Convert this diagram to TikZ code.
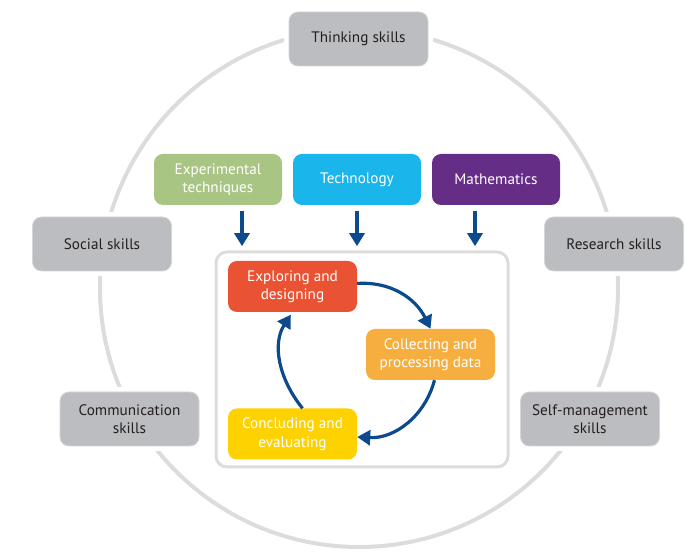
\documentclass[tikz,border=0pt]{standalone}
\usepackage{fontspec}
\setmainfont{PT Sans}
\usetikzlibrary{arrows.meta}
\definecolor{boxgray}{HTML}{BCBDC0}
\definecolor{boxedge}{HTML}{D4D5D7}
\definecolor{ringgray}{HTML}{DCDCDC}
\definecolor{textdark}{HTML}{231F20}
\definecolor{expgreen}{HTML}{A9C584}
\definecolor{techblue}{HTML}{1AB5EA}
\definecolor{mathpurple}{HTML}{652D86}
\definecolor{redstage}{HTML}{EA5234}
\definecolor{orangestage}{HTML}{F6AF3E}
\definecolor{yellowstage}{HTML}{FED201}
\definecolor{arrowblue}{HTML}{0D4A8D}
\begin{document}
\begin{tikzpicture}[x=1pt,y=1pt,
  boxfont/.style={font=\fontsize{15.2}{18.5}\selectfont},
  skill/.style={boxfont, rounded corners=9pt, fill=boxgray, draw=boxedge, line width=0.8pt,
    minimum width=139pt, minimum height=54pt, align=center, text=textdark,
    preaction={draw=white, line width=10pt}},
  tool/.style={boxfont, rounded corners=9pt, minimum width=128pt, minimum height=51pt,
    align=center, text=white},
  stagebox/.style={boxfont, rounded corners=9pt, minimum width=129pt, minimum height=51pt,
    align=center, text=white},
  ring/.style={draw=ringgray, line width=4pt},
  frame/.style={draw=ringgray, line width=3pt, rounded corners=11pt, fill=white,
    minimum width=292pt, minimum height=215pt},
  downarrow/.style={draw=arrowblue, line width=3.2pt, -{Triangle[width=15pt,length=13pt]}},
  cyclearrow/.style={draw=arrowblue, line width=3.2pt, -{Triangle[width=15pt,length=13pt]}}
]
\useasboundingbox (0,0) rectangle (699,556);
% outer ring
\draw[ring] (359,268) circle[radius=259];
% skills
\node[skill] (thinking) at (358.5,517) {Thinking skills};
\node[skill] (social) at (102,312) {Social skills};
\node[skill] (research) at (614,312) {Research skills};
\node[skill] (comm) at (129.5,137) {Communication\\skills};
\node[skill] (selfman) at (590,137) {Self-management\\skills};
% tools
\node[tool, fill=expgreen] (expt) at (218,376.5) {Experimental\\techniques};
\node[tool, fill=techblue] (tech) at (357,376.5) {Technology};
\node[tool, fill=mathpurple] (math) at (496,376.5) {Mathematics};
% inner frame
\node[frame] (inner) at (362,196.5) {};
% stages
\node[stagebox, fill=redstage] (explore) at (292.5,269.5) {Exploring and\\designing};
\node[stagebox, fill=orangestage] (collect) at (430.5,201.5) {Collecting and\\processing data};
\node[stagebox, fill=yellowstage] (conclude) at (292.5,122) {Concluding and\\evaluating};
% down arrows
\draw[downarrow] ([xshift=24pt,yshift=-6pt]expt.south) -- ++(0,-35);
\draw[downarrow] ([yshift=-6pt]tech.south) -- ++(0,-35);
\draw[downarrow] ([xshift=-21pt,yshift=-6pt]math.south) -- ++(0,-35);
% cycle
\draw[cyclearrow] ([yshift=3pt]explore.east) to[out=4,in=116] (collect.north);
\draw[cyclearrow] ([xshift=4pt]collect.south) to[out=-105,in=-3] ([yshift=-3pt]conclude.east);
\draw[cyclearrow, shorten >=3pt] ([xshift=10pt]conclude.north) to[out=129,in=237] (explore.south);
\end{tikzpicture}
\end{document}
